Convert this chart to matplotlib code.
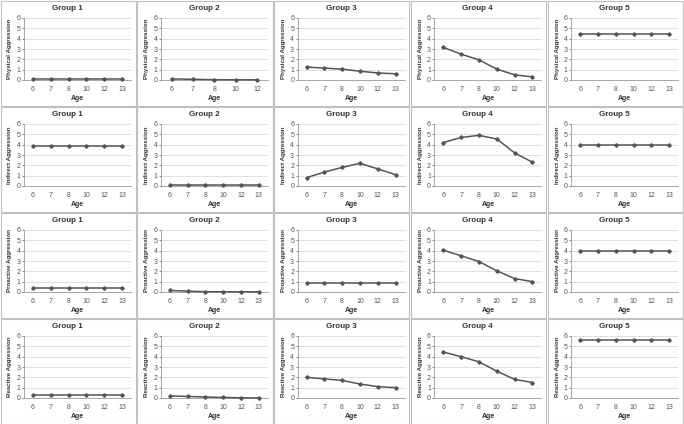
import numpy as np
import matplotlib.pyplot as plt
from matplotlib.patches import Rectangle

plt.rcParams['font.family'] = ['Liberation Sans', 'DejaVu Sans']

# ages (categorical x axis)
ages = ["6", "7", "8", "10", "12", "13"]
ages_g2_phys = ["6", "7", "8", "10", "12"]

groups = ["Group 1", "Group 2", "Group 3", "Group 4", "Group 5"]
measures = ["Physical Aggression", "Indirect Aggression",
            "Proactive Aggression", "Reactive Aggression"]

# values, one list per group
physical = [
    [0.05, 0.05, 0.05, 0.05, 0.05, 0.05],
    [0.10, 0.07, 0.03, 0.02, 0.02],
    [1.25, 1.15, 1.05, 0.85, 0.68, 0.60],
    [3.15, 2.50, 1.95, 1.05, 0.50, 0.30],
    [4.50, 4.50, 4.50, 4.50, 4.50, 4.50],
]
indirect = [
    [3.90, 3.90, 3.90, 3.90, 3.90, 3.90],
    [0.10, 0.10, 0.10, 0.10, 0.10, 0.10],
    [0.80, 1.35, 1.80, 2.20, 1.65, 1.10],
    [4.20, 4.70, 4.90, 4.55, 3.20, 2.30],
    [4.00, 4.00, 4.00, 4.00, 4.00, 4.00],
]
proactive = [
    [0.40, 0.40, 0.40, 0.40, 0.40, 0.40],
    [0.15, 0.08, 0.03, 0.02, 0.02, 0.02],
    [0.90, 0.90, 0.90, 0.90, 0.90, 0.90],
    [4.05, 3.50, 2.95, 2.05, 1.30, 1.00],
    [4.00, 4.00, 4.00, 4.00, 4.00, 4.00],
]
reactive = [
    [0.30, 0.30, 0.30, 0.30, 0.30, 0.30],
    [0.20, 0.15, 0.10, 0.05, 0.02, 0.00],
    [2.00, 1.85, 1.70, 1.35, 1.10, 1.00],
    [4.45, 4.00, 3.50, 2.60, 1.80, 1.50],
    [5.60, 5.60, 5.60, 5.60, 5.60, 5.60],
]
all_data = [physical, indirect, proactive, reactive]

W, H = 684, 424
fig = plt.figure(figsize=(W / 100, H / 100), dpi=100)
fig.patch.set_facecolor("white")

cw, ch = W / 5, H / 4
line_col = "#555555"
grid_col = "#d9d9d9"
txt_col = "#333333"

for r in range(4):
    for c in range(5):
        x0 = c * cw
        y0 = r * ch
        # cell border
        fig.patches.append(Rectangle(((x0 + 0.5) / W, 1 - (y0 + ch - 0.5) / H), (cw - 1.5) / W, (ch - 1.5) / H,
                                     transform=fig.transFigure, fill=False,
                                     edgecolor="#c0c0c0", linewidth=0.8))
        # plot area in pixels
        left, right, top, bottom = x0 + 24, x0 + 131, y0 + 18, y0 + 80
        ax = fig.add_axes([left / W, 1 - bottom / H, (right - left) / W, (bottom - top) / H])

        vals = all_data[r][c]
        xl = ages_g2_phys if (r == 0 and c == 1) else ages
        xs = np.arange(len(xl))
        ax.plot(xs, vals, color=line_col, linewidth=1.1, marker="D", markersize=1.8,
                zorder=3, clip_on=False)

        ax.set_ylim(0, 6)
        ax.set_yticks(range(7))
        ax.set_xlim(-0.5, len(xl) - 0.5)
        ax.set_xticks(xs)
        ax.set_xticklabels(xl)
        ax.yaxis.grid(True, color=grid_col, linewidth=0.6)
        ax.set_axisbelow(True)
        for s in ["top", "right"]:
            ax.spines[s].set_visible(False)
        ax.spines["left"].set_color("#999999")
        ax.spines["bottom"].set_color("#999999")
        ax.spines["left"].set_linewidth(0.6)
        ax.spines["bottom"].set_linewidth(0.6)
        ax.tick_params(axis="both", labelsize=5, colors="#555555", length=1.5, width=0.5, pad=1)
        ax.tick_params(axis="x", length=0, pad=4)

        # title centred on the whole cell
        fig.text((x0 + cw / 2 - 1) / W, 1 - (y0 + 8.5) / H, groups[c], fontsize=5.8,
                 fontweight="bold", color=txt_col, ha="center", va="center")
        ax.set_xlabel("Age", fontsize=5, fontweight="bold", color=txt_col, labelpad=2)
        ax.set_ylabel(measures[r], fontsize=4.4, fontweight="bold", color=txt_col, labelpad=3)

fig.savefig("out.png", dpi=100)
